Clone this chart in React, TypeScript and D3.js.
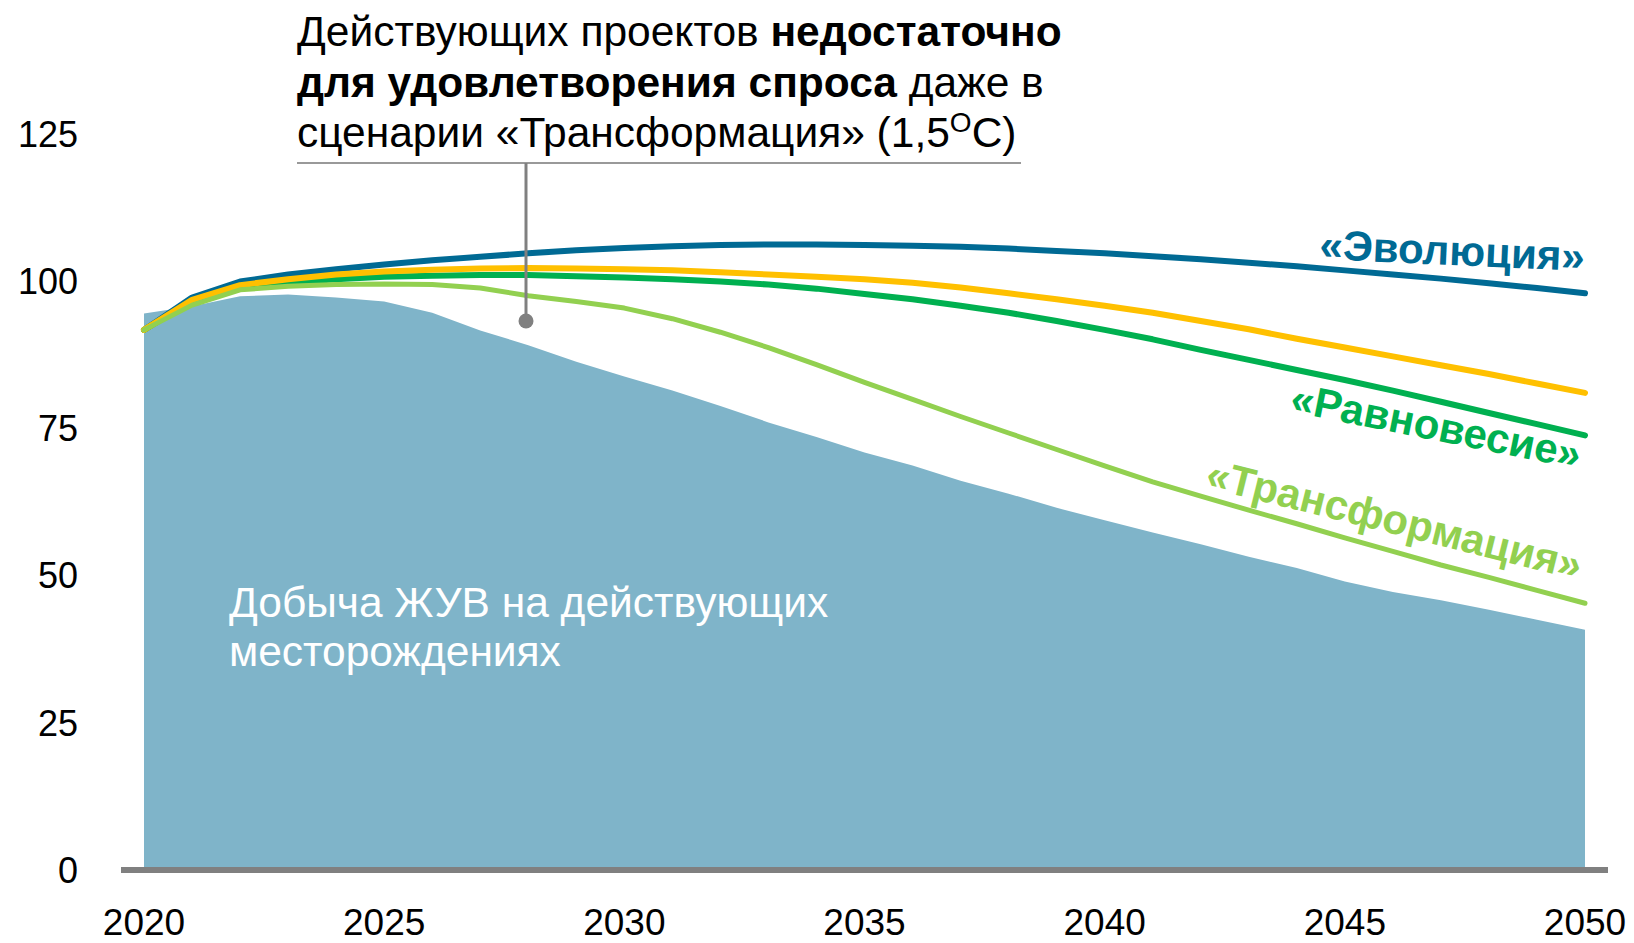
import React, { useEffect } from "react";
import * as d3 from "d3";

// ---- data ----
const years = [
  2020, 2021, 2022, 2023, 2024, 2025, 2026, 2027, 2028, 2029, 2030,
  2031, 2032, 2033, 2034, 2035, 2036, 2037, 2038, 2039, 2040,
  2041, 2042, 2043, 2044, 2045, 2046, 2047, 2048, 2049, 2050,
];

// production at existing fields (area)
const existingFields = [
  94.3, 95.5, 97.2, 97.5, 97.0, 96.3, 94.4, 91.4, 88.9, 86.1, 83.6,
  81.2, 78.6, 75.8, 73.3, 70.7, 68.5, 65.9, 63.7, 61.3, 59.2,
  57.1, 55.1, 53.0, 51.1, 48.8, 47.0, 45.6, 44.0, 42.3, 40.6,
];

const evolution = [
  91.5, 97.0, 99.7, 100.9, 101.8, 102.6, 103.3, 103.9, 104.5, 105.0, 105.4,
  105.7, 105.9, 106.0, 106.0, 105.9, 105.8, 105.6, 105.3, 104.9, 104.5,
  104.0, 103.5, 102.9, 102.3, 101.6, 100.9, 100.2, 99.4, 98.6, 97.7,
];

const yellowScenario = [
  91.5, 96.6, 99.1, 100.1, 100.9, 101.4, 101.7, 101.9, 102.0, 101.9, 101.8,
  101.6, 101.3, 100.9, 100.5, 100.1, 99.5, 98.7, 97.7, 96.7, 95.6,
  94.4, 93.0, 91.6, 90.0, 88.5, 87.0, 85.5, 84.0, 82.4, 80.8,
];

const equilibrium = [
  91.5, 96.4, 98.8, 99.5, 100.1, 100.5, 100.7, 100.8, 100.8, 100.6, 100.4,
  100.1, 99.7, 99.2, 98.5, 97.6, 96.7, 95.6, 94.4, 93.0, 91.5,
  89.9, 88.1, 86.4, 84.7, 83.0, 81.2, 79.3, 77.4, 75.5, 73.6,
];

const transformation = [
  91.5, 95.7, 98.3, 98.9, 99.2, 99.3, 99.2, 98.6, 97.3, 96.3, 95.2,
  93.4, 91.1, 88.5, 85.6, 82.6, 79.7, 76.8, 74.0, 71.2, 68.4,
  65.7, 63.3, 60.9, 58.6, 56.2, 53.9, 51.6, 49.5, 47.3, 45.1,
];

const yTicks = [0, 25, 50, 75, 100, 125];
const xTicks = [2020, 2025, 2030, 2035, 2040, 2045, 2050];

const series = [
  { name: "evolution", values: evolution, color: "#006a94", width: 6 },
  { name: "equilibrium", values: equilibrium, color: "#00b050", width: 6 },
  { name: "yellow", values: yellowScenario, color: "#ffc000", width: 6 },
  { name: "transformation", values: transformation, color: "#92d050", width: 5 },
];

const FONT = "'Liberation Sans', Arial, sans-serif";

export default function App() {
  useEffect(() => {
    document.body.style.margin = "0";
  }, []);

  const width = 1634;
  const height = 943;

  const x = d3.scaleLinear().domain([2020, 2050]).range([144, 1585]);
  const y = d3.scaleLinear().domain([0, 125]).range([869, 132.5]);

  const areaGen = d3
    .area<number>()
    .x((d, i) => x(years[i]))
    .y0(y(0))
    .y1((d) => y(d));

  const lineGen = d3
    .line<number>()
    .x((d, i) => x(years[i]))
    .y((d) => y(d));

  return (
    <svg width={width} height={height} style={{ display: "block", background: "#fff" }}>
      {/* area */}
      <path d={areaGen(existingFields) || ""} fill="#7fb4c9" />

      {/* x axis line */}
      <line x1={121} x2={1608} y1={870} y2={870} stroke="#808080" strokeWidth={6} />

      {/* y tick labels */}
      {yTicks.map((t) => (
        <text
          key={t}
          x={78}
          y={y(t) + 14}
          textAnchor="end"
          fontFamily={FONT}
          fontSize={36}
          fill="#000"
        >
          {t}
        </text>
      ))}

      {/* x tick labels */}
      {xTicks.map((t) => (
        <text
          key={t}
          x={x(t)}
          y={935}
          textAnchor="middle"
          fontFamily={FONT}
          fontSize={37}
          fill="#000"
        >
          {t}
        </text>
      ))}

      {/* scenario lines */}
      {series.map((s) => (
        <path
          key={s.name}
          d={lineGen(s.values) || ""}
          fill="none"
          stroke={s.color}
          strokeWidth={s.width}
          strokeLinecap="round"
          strokeLinejoin="round"
        />
      ))}

      {/* scenario labels */}
      <text
        x={1584}
        y={271}
        transform="rotate(2.6 1584 271)"
        textAnchor="end"
        fontFamily={FONT}
        fontWeight="bold"
        fontSize={42}
        fill="#006a94"
      >
        «Эволюция»
      </text>
      <text
        x={1578}
        y={469}
        transform="rotate(11.3 1578 469)"
        textAnchor="end"
        fontFamily={FONT}
        fontWeight="bold"
        fontSize={42}
        fill="#00b050"
      >
        «Равновесие»
      </text>
      <text
        x={1578}
        y={580}
        transform="rotate(14 1578 580)"
        textAnchor="end"
        fontFamily={FONT}
        fontWeight="bold"
        fontSize={42}
        fill="#92d050"
      >
        «Трансформация»
      </text>

      {/* area label */}
      <text x={229} y={617} fontFamily={FONT} fontSize={42.5} fill="#fff">
        Добыча ЖУВ на действующих
      </text>
      <text x={229} y={666} fontFamily={FONT} fontSize={42.5} fill="#fff">
        месторождениях
      </text>

      {/* annotation */}
      <text x={297} y={46} fontFamily={FONT} fontSize={42.5} fill="#000">
        Действующих проектов <tspan fontWeight="bold">недостаточно</tspan>
      </text>
      <text x={297} y={97} fontFamily={FONT} fontSize={42.5} fill="#000">
        <tspan fontWeight="bold">для удовлетворения спроса</tspan> даже в
      </text>
      <text x={297} y={147} fontFamily={FONT} fontSize={42.5} fill="#000">
        сценарии «Трансформация» (1,5
        <tspan fontSize={28} dy={-15}>O</tspan>
        <tspan dy={15}>C)</tspan>
      </text>
      <line x1={297} x2={1021} y1={163} y2={163} stroke="#999" strokeWidth={2} />
      <line x1={526} x2={526} y1={163} y2={321} stroke="#808080" strokeWidth={3} />
      <circle cx={526} cy={321} r={7.5} fill="#808080" />
    </svg>
  );
}
